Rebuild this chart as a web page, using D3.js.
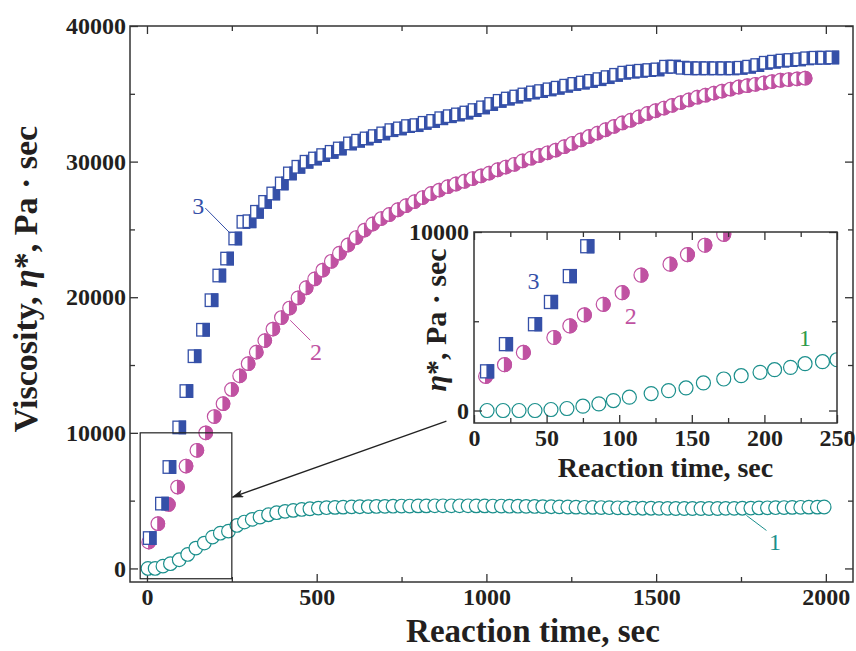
<!DOCTYPE html>
<html>
<head>
<meta charset="utf-8">
<script src="https://cdn.jsdelivr.net/npm/d3@7"></script>
<style>
  html, body { margin: 0; padding: 0; background: #fff; }
  svg { display: block; }
</style>
</head>
<body>
<svg id="chart" width="856" height="651"></svg>
<script>
// ---- Main plot data: reaction time (sec) and complex viscosity (Pa·sec) ----
const time1 = [3,24,47,69,95,120,144,169,193,216,240,265,287,310,333,358,382,407,431,456,480,505,529,554,578,603,627,652,676,701,725,750,774,799,823,848,872,897,921,946,970,995,1019,1044,1068,1093,1117,1142,1166,1191,1215,1240,1264,1289,1313,1338,1362,1387,1411,1436,1460,1485,1509,1534,1558,1583,1607,1632,1656,1681,1705,1730,1754,1779,1803,1828,1852,1877,1901,1926,1950,1975,1995];
const visc1 = [0,0,170,350,640,1030,1500,1870,2310,2600,2750,3170,3420,3620,3790,3960,4110,4210,4280,4350,4400,4450,4480,4500,4520,4540,4550,4560,4570,4580,4590,4600,4600,4610,4610,4620,4620,4620,4620,4620,4610,4610,4600,4600,4590,4590,4580,4570,4560,4550,4540,4530,4520,4510,4500,4490,4480,4470,4460,4450,4440,4440,4430,4430,4420,4420,4420,4420,4420,4420,4430,4430,4440,4450,4460,4470,4480,4490,4500,4510,4520,4520,4530];

const time2 = [5,32,63,90,115,147,173,198,224,249,273,298,322,347,371,396,420,445,469,494,518,543,567,592,616,641,665,690,714,739,763,788,812,837,861,886,910,935,959,984,1008,1033,1057,1082,1106,1131,1155,1180,1204,1229,1253,1278,1302,1327,1351,1376,1400,1425,1449,1474,1498,1523,1547,1572,1596,1621,1645,1670,1694,1719,1743,1768,1792,1817,1841,1866,1890,1915,1939];
const visc2 = [1940,3300,4720,6000,7550,8710,10000,11200,12150,13200,14200,15100,15950,16800,17650,18500,19200,19950,20700,21350,22000,22650,23250,23850,24400,24950,25400,25800,26100,26450,26750,27050,27350,27650,27900,28150,28350,28550,28750,28950,29150,29400,29600,29800,30050,30250,30450,30650,30850,31100,31350,31600,31850,32100,32350,32600,32850,33050,33300,33550,33750,33950,34150,34350,34550,34750,34900,35050,35200,35350,35500,35600,35700,35800,35900,36000,36050,36100,36150];

const time3 = [8,44,66,95,116,140,165,190,213,236,260,284,302,324,348,372,397,421,446,470,495,519,544,568,598,622,647,671,696,720,745,769,794,818,843,867,892,916,941,965,990,1014,1039,1063,1088,1112,1137,1161,1186,1210,1235,1259,1284,1308,1333,1357,1382,1406,1431,1455,1480,1504,1529,1553,1578,1602,1627,1651,1676,1700,1725,1749,1774,1798,1823,1847,1872,1896,1921,1945,1970,1994,2019];
const visc3 = [2240,4780,7480,10400,13080,15650,17600,19780,21600,22850,24330,25560,25600,26300,27030,27650,28390,29130,29620,29990,30230,30480,30720,30970,31340,31540,31710,31880,32080,32320,32450,32620,32690,32860,33000,33200,33350,33480,33620,33800,34000,34250,34480,34650,34800,34950,35100,35200,35330,35450,35600,35730,35830,35950,36080,36230,36400,36560,36640,36700,36750,36800,37000,37000,36920,36880,36880,36880,36880,36880,36880,36920,37000,37120,37290,37370,37450,37490,37540,37620,37660,37660,37680];

// ---- Inset data: first 250 sec ----
const insetTime1 = [9,20,31,42,53,64,75,86,96,107,122,134,146,158,172,184,197,207,218,228,240,250];
const insetVisc1 = [0,0,0,0,56,112,242,372,558,744,948,1115,1264,1543,1766,1952,2138,2287,2417,2621,2733,2844];
const insetTime2 = [8,21,34,55,66,76,89,102,115,135,147,159,172];
const insetVisc2 = [1915,2566,3253,4090,4740,5354,5949,6600,7585,8198,8737,9258,9871];
const insetTime3 = [9,22,42,53,66,78,92];
const insetVisc3 = [2194,3718,4833,6079,7529,9202,10470];

// ---- Axis ticks ----
const mainXTicks = [0, 500, 1000, 1500, 2000];
const mainXMinor = [250, 750, 1250, 1750];
const mainYTicks = [0, 10000, 20000, 30000, 40000];
const mainYMinor = [5000, 15000, 25000, 35000];
const insetXTicks = [0, 50, 100, 150, 200, 250];
const insetXMinor = [25, 75, 125, 175, 225];
const insetYTicks = [0, 10000];
const insetYMinor = [5000];

const FONT = "'Liberation Serif','Times New Roman',Times,serif";
const C1 = "#1b8f8c", C2 = "#c052a2", C3 = "#3550a8", C1inset = "#2e9a4a";
const AXIS = "#333";

const svg = d3.select("#chart");
svg.append("rect").attr("width", 856).attr("height", 651).attr("fill", "#fff");

const zip = (a, b) => a.map((t, i) => ({ t, v: b[i] }));

// ---- Scales ----
const x = d3.scaleLinear().domain([-50, 2080]).range([130, 853]);
const y = d3.scaleLinear().domain([-1000, 40000]).range([582, 26]);
const xi = d3.scaleLinear().domain([0, 250]).range([474, 837]);
const yi = d3.scaleLinear().domain([-700, 10000]).range([423, 232]);

// ---- Marker helpers ----
function drawCircles(g, pts, xs, ys, color, r) {
  g.selectAll("circle.m").data(pts).join("circle")
    .attr("class", "m")
    .attr("cx", d => xs(d.t)).attr("cy", d => ys(d.v)).attr("r", r)
    .attr("fill", "#fff").attr("stroke", color).attr("stroke-width", 1.2);
}
function drawHalfCircles(g, pts, xs, ys, color, r) {
  const m = g.selectAll("g.m").data(pts).join("g").attr("class", "m")
    .attr("transform", d => `translate(${xs(d.t)},${ys(d.v)})`);
  m.append("circle").attr("r", r).attr("fill", "#fff").attr("stroke", color).attr("stroke-width", 1.2);
  m.append("path").attr("d", `M0,${-r} A${r},${r} 0 0 1 0,${r} Z`).attr("fill", color).attr("stroke", color).attr("stroke-width", 1.2);
}
function drawHalfSquares(g, pts, xs, ys, color, s) {
  const h = s / 2;
  const m = g.selectAll("g.m").data(pts).join("g").attr("class", "m")
    .attr("transform", d => `translate(${xs(d.t)},${ys(d.v)})`);
  m.append("rect").attr("x", -h).attr("y", -h).attr("width", s).attr("height", s)
    .attr("fill", "#fff").attr("stroke", color).attr("stroke-width", 1.3);
  m.append("rect").attr("x", 0).attr("y", -h).attr("width", h).attr("height", s)
    .attr("fill", color).attr("stroke", color).attr("stroke-width", 1.3);
}

// ---- Axes with inward ticks on all four sides ----
function frameAxes(g, xs, ys, xMajor, xMinor, yMajor, yMinor, opts) {
  const [x0, x1] = xs.range(), [y0, y1] = ys.range();
  const style = sel => {
    sel.select(".domain").remove();
    sel.selectAll(".tick line").attr("stroke", AXIS).attr("stroke-width", 1.3);
    sel.selectAll(".tick text").attr("font-family", FONT).attr("font-weight", "bold")
      .attr("font-size", opts.fontSize).attr("fill", "#231f20");
  };
  g.append("g").attr("transform", `translate(0,${y0})`)
    .call(d3.axisBottom(xs).tickValues(xMajor).tickSize(-opts.major).tickPadding(opts.xPad).tickFormat(d3.format("d"))).call(style);
  g.append("g").attr("transform", `translate(0,${y0})`)
    .call(d3.axisBottom(xs).tickValues(xMinor).tickSize(-opts.minor).tickFormat("")).call(style);
  g.append("g").attr("transform", `translate(0,${y1})`)
    .call(d3.axisTop(xs).tickValues(xMajor).tickSize(-opts.major).tickFormat("")).call(style);
  g.append("g").attr("transform", `translate(0,${y1})`)
    .call(d3.axisTop(xs).tickValues(xMinor).tickSize(-opts.minor).tickFormat("")).call(style);
  g.append("g").attr("transform", `translate(${x0},0)`)
    .call(d3.axisLeft(ys).tickValues(yMajor).tickSize(-opts.major).tickPadding(opts.yPad).tickFormat(d3.format("d"))).call(style);
  g.append("g").attr("transform", `translate(${x0},0)`)
    .call(d3.axisLeft(ys).tickValues(yMinor).tickSize(-opts.minor).tickFormat("")).call(style);
  g.append("g").attr("transform", `translate(${x1},0)`)
    .call(d3.axisRight(ys).tickValues(yMajor).tickSize(-opts.major).tickFormat("")).call(style);
  g.append("g").attr("transform", `translate(${x1},0)`)
    .call(d3.axisRight(ys).tickValues(yMinor).tickSize(-opts.minor).tickFormat("")).call(style);
  g.append("rect").attr("x", x0).attr("y", y1).attr("width", x1 - x0).attr("height", y0 - y1)
    .attr("fill", "none").attr("stroke", AXIS).attr("stroke-width", 1.5);
}

// ---- Main plot ----
const main = svg.append("g");
frameAxes(main, x, y, mainXTicks, mainXMinor, mainYTicks, mainYMinor,
  { major: 8, minor: 5, fontSize: 24, xPad: 6, yPad: 4 });

drawCircles(main.append("g"), zip(time1, visc1), x, y, C1, 6.8);
drawHalfCircles(main.append("g"), zip(time2, visc2), x, y, C2, 6.8);
drawHalfSquares(main.append("g"), zip(time3, visc3), x, y, C3, 12.5);

// Region enlarged in the inset
main.append("rect")
  .attr("x", x(-20)).attr("y", y(10000))
  .attr("width", x(250) - x(-20)).attr("height", y(-760) - y(10000))
  .attr("fill", "none").attr("stroke", "#222").attr("stroke-width", 1.2);

// Curve labels with leader lines
function curveLabel(g, xs, ys, text, color, tx, tv, lineFrom, lineTo, size) {
  if (lineFrom) {
    g.append("line")
      .attr("x1", xs(lineFrom[0])).attr("y1", ys(lineFrom[1]))
      .attr("x2", xs(lineTo[0])).attr("y2", ys(lineTo[1]))
      .attr("stroke", color).attr("stroke-width", 1);
  }
  g.append("text").attr("x", xs(tx)).attr("y", ys(tv)).attr("dy", "0.35em")
    .attr("text-anchor", "middle").attr("font-family", FONT).attr("font-size", size)
    .attr("fill", color).text(text);
}
curveLabel(main, x, y, "3", C3, 151, 26790, [172, 26570], [245, 24720], 24);
curveLabel(main, x, y, "2", C2, 498, 16000, [422, 18300], [481, 16830], 24);
curveLabel(main, x, y, "1", C1, 1850, 2000, [1766, 3910], [1825, 2800], 24);

// Main axis titles
main.append("text")
  .attr("x", 533).attr("y", 642)
  .attr("text-anchor", "middle").attr("font-family", FONT).attr("font-weight", "bold")
  .attr("font-size", 33).attr("fill", "#231f20").text("Reaction time, sec");

const yTitle = main.append("text")
  .attr("transform", `translate(37,279) rotate(-90)`)
  .attr("text-anchor", "middle").attr("font-family", FONT).attr("font-weight", "bold")
  .attr("font-size", 34).attr("fill", "#231f20");
yTitle.append("tspan").text("Viscosity, ");
yTitle.append("tspan").attr("font-style", "italic").text("η");
yTitle.append("tspan").text("*, Pa · sec");

// ---- Inset ----
const inset = svg.append("g");
inset.append("rect").attr("x", xi.range()[0]).attr("y", yi.range()[1])
  .attr("width", xi.range()[1] - xi.range()[0]).attr("height", yi.range()[0] - yi.range()[1])
  .attr("fill", "#fff");
svg.append("clipPath").attr("id", "insetClip").append("rect")
  .attr("x", xi.range()[0]).attr("y", yi.range()[1])
  .attr("width", xi.range()[1] - xi.range()[0]).attr("height", yi.range()[0] - yi.range()[1]);

const insetData = inset.append("g").attr("clip-path", "url(#insetClip)");
drawCircles(insetData.append("g"), zip(insetTime1, insetVisc1), xi, yi, C1, 7);
drawHalfCircles(insetData.append("g"), zip(insetTime2, insetVisc2), xi, yi, C2, 7);
drawHalfSquares(insetData.append("g"), zip(insetTime3, insetVisc3), xi, yi, C3, 13);

frameAxes(inset, xi, yi, insetXTicks, insetXMinor, insetYTicks, insetYMinor,
  { major: 8, minor: 5, fontSize: 24, xPad: 6, yPad: 5 });

curveLabel(inset, xi, yi, "3", C3, 41, 7250, null, null, 24);
curveLabel(inset, xi, yi, "2", C2, 108, 5320, null, null, 24);
curveLabel(inset, xi, yi, "1", C1inset, 228, 4090, null, null, 24);

inset.append("text")
  .attr("x", (xi.range()[0] + xi.range()[1]) / 2 + 10).attr("y", 477)
  .attr("text-anchor", "middle").attr("font-family", FONT).attr("font-weight", "bold")
  .attr("font-size", 28).attr("fill", "#231f20").text("Reaction time, sec");

const yiTitle = inset.append("text")
  .attr("transform", `translate(446,320) rotate(-90)`)
  .attr("text-anchor", "middle").attr("font-family", FONT).attr("font-weight", "bold")
  .attr("font-size", 30).attr("fill", "#231f20");
yiTitle.append("tspan").attr("font-style", "italic").text("η");
yiTitle.append("tspan").text("*, Pa · sec");

// Arrow from the inset back to the enlarged region
const defs = svg.append("defs");
defs.append("marker").attr("id", "arrowHead").attr("viewBox", "0 0 12 8")
  .attr("refX", 11).attr("refY", 4).attr("markerWidth", 12).attr("markerHeight", 8)
  .attr("markerUnits", "userSpaceOnUse").attr("orient", "auto")
  .append("path").attr("d", "M0,0 L12,4 L0,8 L3,4 Z").attr("fill", "#222");
svg.append("line")
  .attr("x1", xi(-19)).attr("y1", yi(-590))
  .attr("x2", x(252)).attr("y2", y(5260))
  .attr("stroke", "#222").attr("stroke-width", 1.3)
  .attr("marker-end", "url(#arrowHead)");
</script>
</body>
</html>
